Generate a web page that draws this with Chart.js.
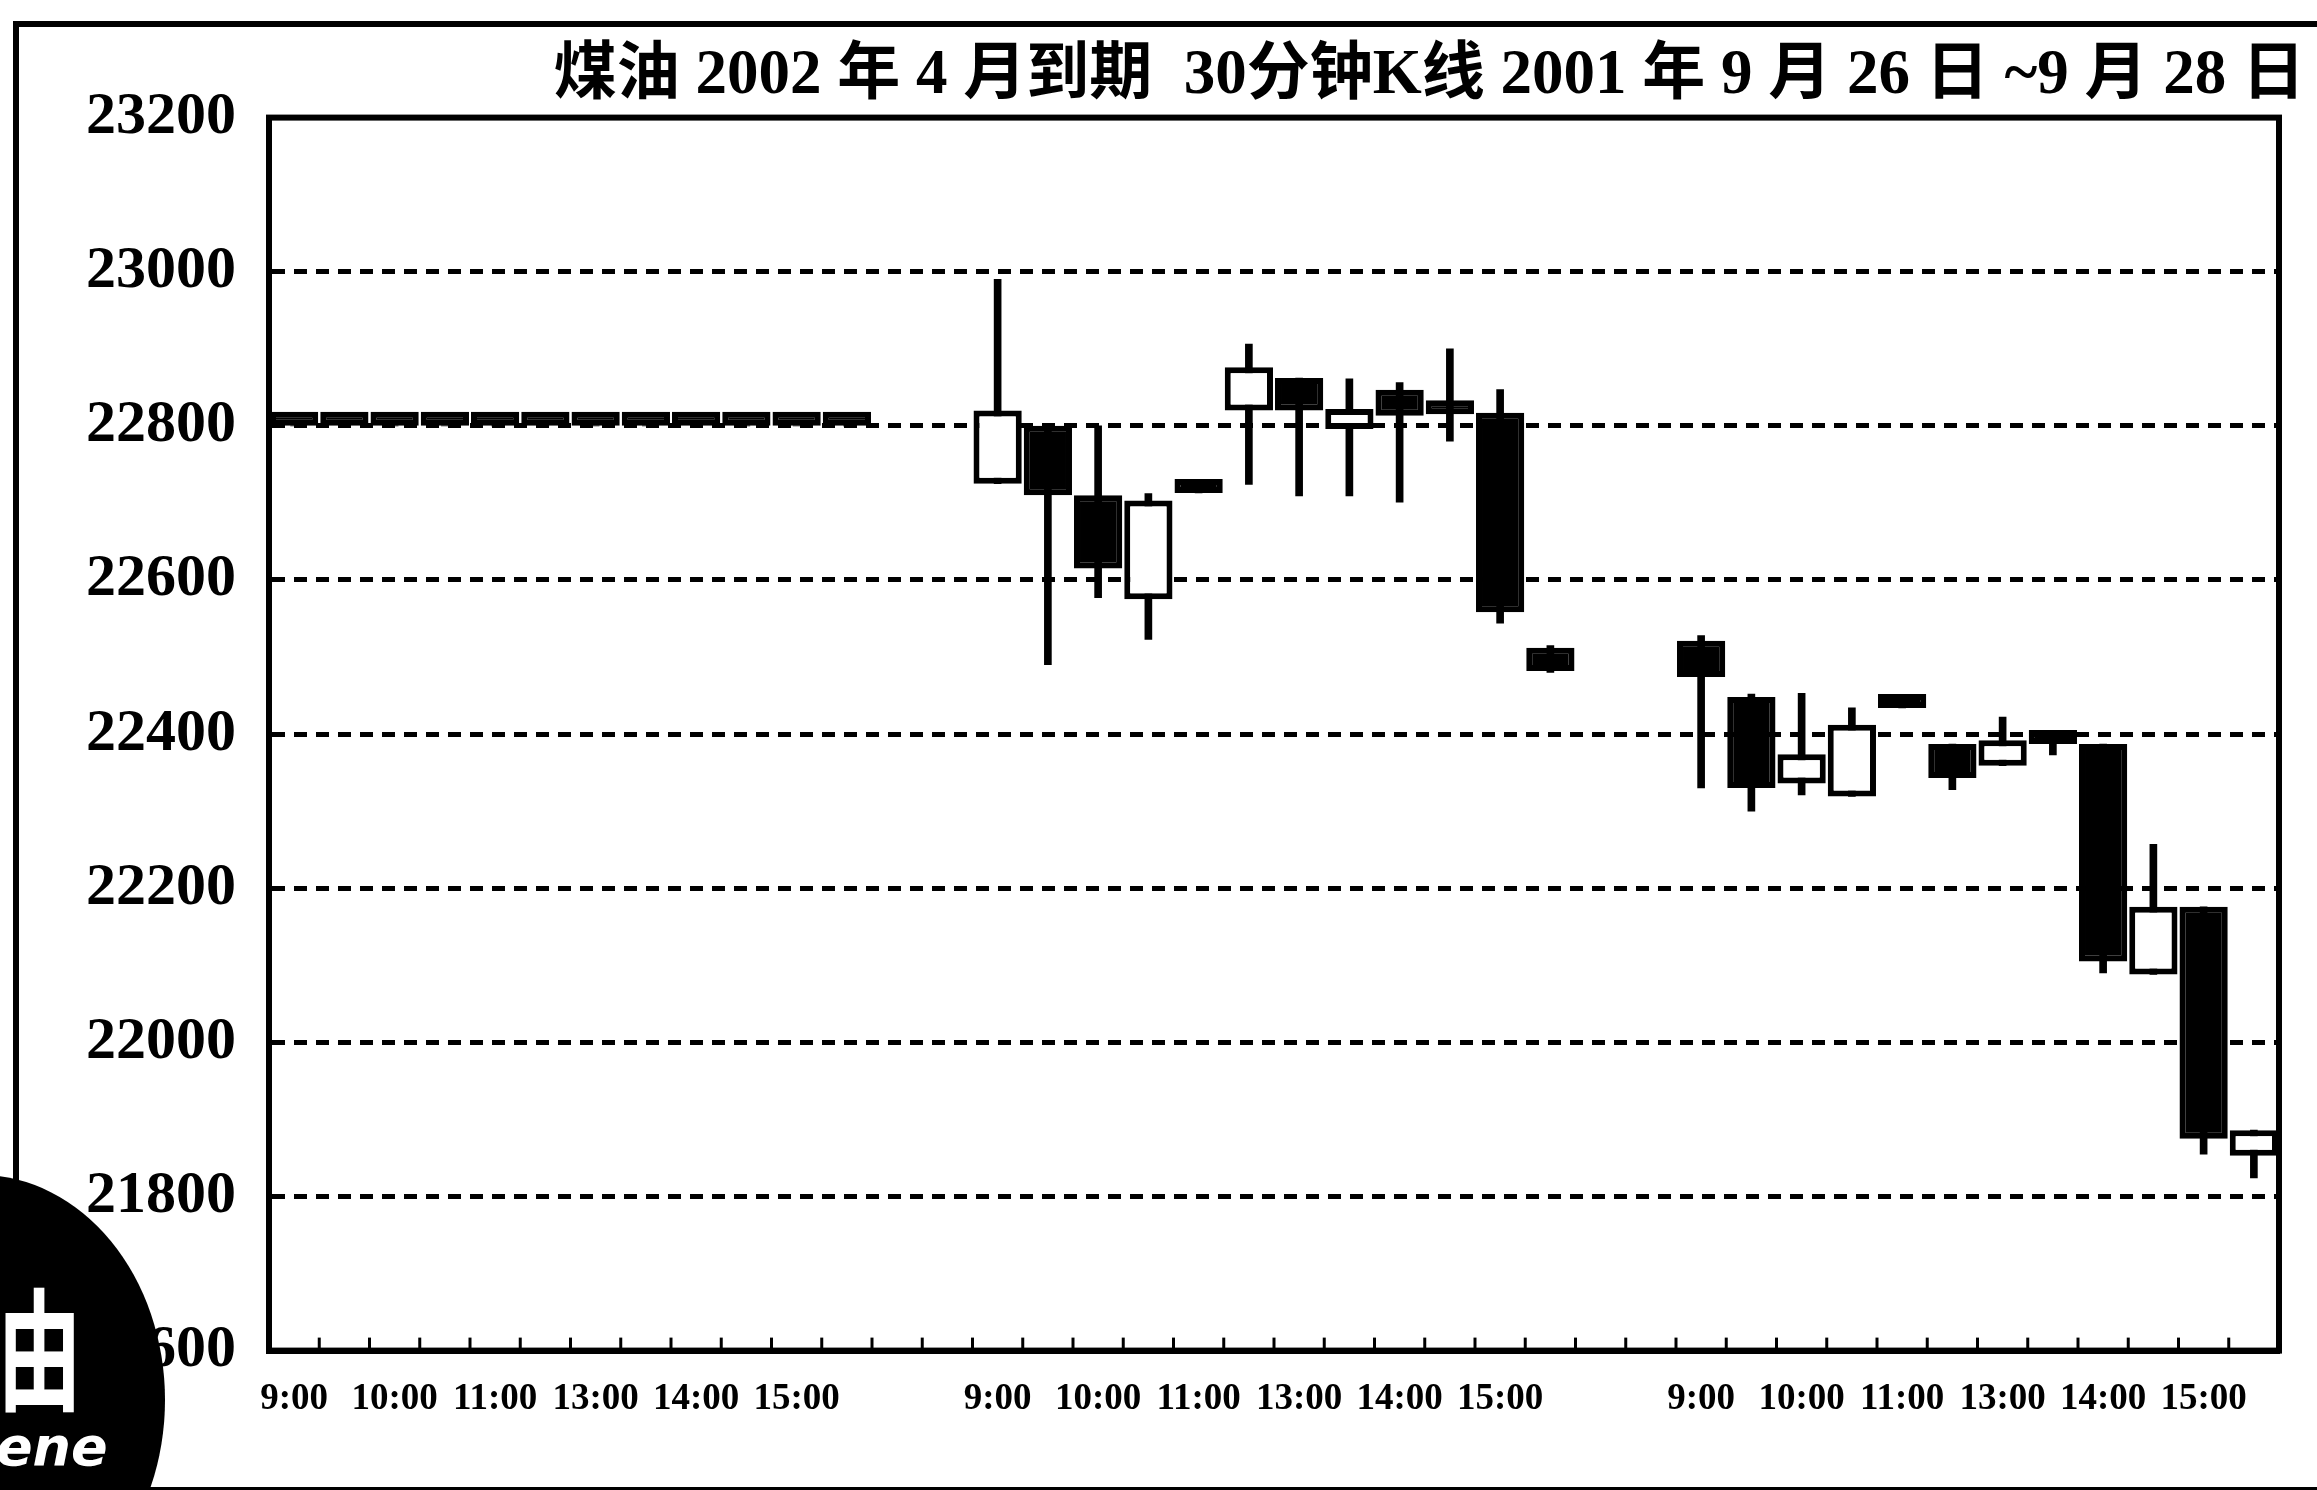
<!DOCTYPE html>
<html>
<head>
<meta charset="utf-8">
<script src="https://cdn.jsdelivr.net/npm/chart.js@4.4.1/dist/chart.umd.min.js"></script>
<style>
  html, body { margin: 0; padding: 0; background: #fff; }
  #wrap { position: relative; width: 2317px; height: 1490px; overflow: hidden; background: #fff; }
  #frame { position: absolute; left: 13px; top: 21px; width: 2330px; height: 1460px;
           border-top: 6px solid #000; border-left: 6px solid #000; border-bottom: 3px solid #000; }
  #chart { position: absolute; left: 0; top: 0; }
  #logo { position: absolute; left: -205px; top: 1175px; width: 370px; height: 450px;
          border-radius: 50%; background: #000; }
  #you { position: absolute; left: -3px; top: 1276px; color: #fff; font: bold 85px 'Noto Sans CJK SC';
         line-height: 1; transform: scaleY(1.55); transform-origin: 0 0; }
  #ene { position: absolute; left: -4px; top: 1420px; color: #fff; font: italic bold 54px 'DejaVu Sans';
         line-height: 1; }
</style>
</head>
<body>
<div id="wrap">
  <div id="frame"></div>
  <canvas id="chart" width="2317" height="1490"></canvas>
  <div id="logo"></div>
  <span id="you">由</span>
  <span id="ene">ene</span>
</div>
<script>
// tick labels for one trading day (12 half-hour bars), 2 empty slots between days
const dayTicks = ['9:00', '', '10:00', '', '11:00', '', '13:00', '', '14:00', '', '15:00', '']
const gapTicks = ['', '']
const labels = [...dayTicks, ...gapTicks, ...dayTicks, ...gapTicks, ...dayTicks]

// 9月26日: no trades, every bar flat at 22800
const day1Open  = [22800, 22800, 22800, 22800, 22800, 22800, 22800, 22800, 22800, 22800, 22800, 22800]
const day1Close = [22800, 22800, 22800, 22800, 22800, 22800, 22800, 22800, 22800, 22800, 22800, 22800]
const day1High  = [22800, 22800, 22800, 22800, 22800, 22800, 22800, 22800, 22800, 22800, 22800, 22800]
const day1Low   = [22800, 22800, 22800, 22800, 22800, 22800, 22800, 22800, 22800, 22800, 22800, 22800]

// 9月27日
const day2Open  = [22725, 22800, 22710, 22575, 22713, 22820, 22862, 22796, 22847, 22815, 22817, 22512]
const day2Close = [22820, 22710, 22615, 22703, 22713, 22876, 22820, 22822, 22813, 22815, 22558, 22482]
const day2High  = [22990, 22800, 22800, 22712, 22713, 22906, 22862, 22861, 22856, 22900, 22847, 22515]
const day2Low   = [22725, 22490, 22577, 22523, 22713, 22724, 22709, 22709, 22701, 22780, 22544, 22480]

// 9月28日
const day3Open  = [22521, 22448, 22336, 22319, 22434, 22387, 22359, 22387, 22387, 22088, 22176, 21853]
const day3Close = [22474, 22330, 22374, 22412, 22434, 22343, 22392, 22387, 22105, 22176, 21875, 21886]
const day3High  = [22528, 22452, 22453, 22434, 22434, 22387, 22422, 22392, 22387, 22257, 22176, 21886]
const day3Low   = [22330, 22300, 22321, 22319, 22434, 22328, 22359, 22373, 22090, 22088, 21855, 21824]

const gap = [null, null]
const open  = [...day1Open,  ...gap, ...day2Open,  ...gap, ...day3Open]
const close = [...day1Close, ...gap, ...day2Close, ...gap, ...day3Close]
const high  = [...day1High,  ...gap, ...day2High,  ...gap, ...day3High]
const low   = [...day1Low,   ...gap, ...day2Low,   ...gap, ...day3Low]

const yTicks = [21600, 21800, 22000, 22200, 22400, 22600, 22800, 23000, 23200]

const title = '煤油 2002 年 4 月到期  30分钟K线 2001 年 9 月 26 日 ~9 月 28 日'

// box round the plot and small inward ticks between the bars
const frameTicks = {
  id: 'frameTicks',
  afterDraw(chart) {
    const ctx = chart.ctx
    const a = chart.chartArea
    const x = chart.scales.x
    ctx.save()
    ctx.strokeStyle = '#000'
    ctx.lineWidth = 3
    for (let i = 1; i < labels.length; i++) {
      const px = (x.getPixelForValue(i - 1) + x.getPixelForValue(i)) / 2
      ctx.beginPath()
      ctx.moveTo(px, a.bottom)
      ctx.lineTo(px, a.bottom - 13)
      ctx.stroke()
    }
    ctx.lineWidth = 6
    ctx.strokeRect(a.left, a.top, a.right - a.left, a.bottom - a.top)
    ctx.restore()
  }
}

const ctx = document.getElementById('chart').getContext('2d')
const chart = new Chart(ctx, {
  type: 'bar',
  data: {
    labels: labels,
    datasets: [
      {
        label: 'body',
        data: open.map((o, i) => o == null ? null : [o, close[i]]),
        backgroundColor: open.map((o, i) => close[i] > o ? '#fff' : '#000'),
        borderColor: '#000',
        borderWidth: 6,
        borderSkipped: false,
        barPercentage: 0.96,
        categoryPercentage: 1,
        minBarLength: 14,
        grouped: false,
        order: 0
      },
      {
        label: 'wick',
        data: low.map((l, i) => l == null ? null : [l, high[i]]),
        backgroundColor: '#000',
        barThickness: 7,
        grouped: false,
        order: 1
      }
    ]
  },
  options: {
    responsive: false,
    animation: false,
    layout: { padding: { left: 0, right: 12, top: 0, bottom: 41 } },
    plugins: {
      legend: { display: false },
      tooltip: { enabled: false },
      title: {
        display: true,
        text: title,
        align: 'end',
        color: '#000',
        font: { family: "'Liberation Serif', 'Noto Sans CJK SC'", size: 63, weight: 'bold', lineHeight: 1.2 },
        padding: { top: 39, bottom: 3 }
      }
    },
    scales: {
      x: {
        offset: true,
        grid: { display: false, drawTicks: false },
        border: { display: true, color: '#000', width: 6 },
        ticks: {
          autoSkip: false,
          maxRotation: 0,
          padding: 27,
          color: '#000',
          font: { family: 'Liberation Serif', size: 37, weight: 'bold' }
        }
      },
      y: {
        min: yTicks[0],
        max: yTicks[yTicks.length - 1],
        afterFit: s => { s.width = 269 },
        afterBuildTicks: s => { s.ticks = yTicks.map(v => ({ value: v })) },
        ticks: {
          padding: 33,
          color: '#000',
          font: { family: 'Liberation Serif', size: 60, weight: 'bold' },
          callback: v => String(v)
        },
        grid: {
          drawTicks: false,
          lineWidth: 5,
          color: c => (c.tick && (c.tick.value === yTicks[0] || c.tick.value === yTicks[yTicks.length - 1])) ? 'rgba(0,0,0,0)' : '#000'
        },
        border: { display: true, color: '#000', width: 6, dash: [13, 9] }
      },
      y2: {
        position: 'right',
        display: true,
        afterFit: s => { s.width = 26 },
        ticks: { display: false },
        grid: { display: false, drawTicks: false },
        border: { display: false }
      }
    }
  },
  plugins: [frameTicks]
})
</script>
</body>
</html>
